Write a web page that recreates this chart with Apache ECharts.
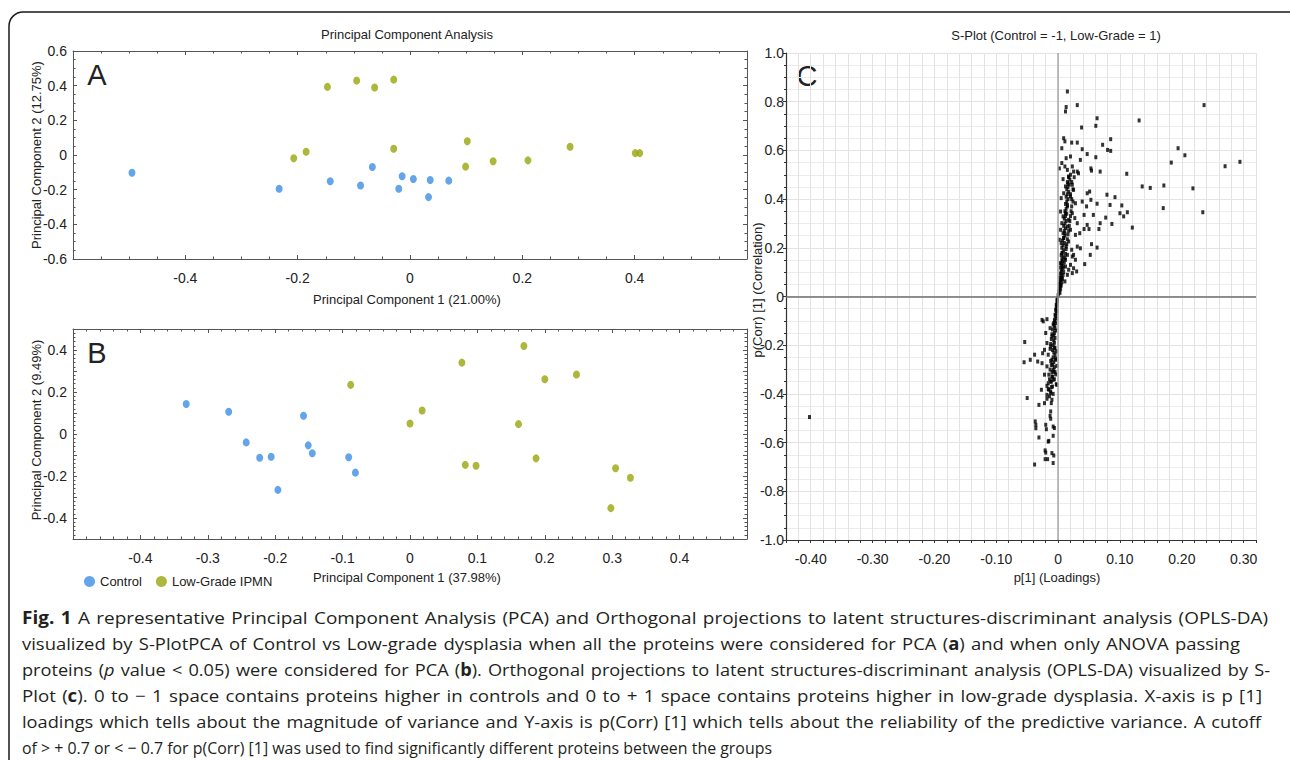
<!DOCTYPE html>
<html>
<head>
<meta charset="utf-8">
<script src="https://cdn.jsdelivr.net/npm/echarts@6/dist/echarts.min.js"></script>
<style>
html,body{margin:0;padding:0;background:#fff;}
#chart{width:1290px;height:760px;}
</style>
</head>
<body>
<div id="chart"></div>
<script>
// ---------------- DATA ----------------
// Panel A: PCA (all proteins)  [PC1, PC2]
const pcaA_control = [[-0.495,-0.102],[-0.233,-0.195],[-0.142,-0.151],[-0.088,-0.176],[-0.067,-0.069],
  [-0.014,-0.123],[-0.020,-0.195],[0.006,-0.138],[0.036,-0.144],[0.033,-0.243],[0.069,-0.148]];
const pcaA_lowgrade = [[-0.207,-0.019],[-0.185,0.019],[-0.147,0.393],[-0.095,0.429],[-0.063,0.389],
  [-0.029,0.435],[-0.029,0.036],[0.102,0.079],[0.099,-0.067],[0.148,-0.036],[0.210,-0.031],
  [0.285,0.048],[0.401,0.011],[0.409,0.011]];
// Panel B: PCA (ANOVA passing proteins)
const pcaB_control = [[-0.332,0.143],[-0.269,0.106],[-0.243,-0.040],[-0.223,-0.113],[-0.206,-0.108],
  [-0.196,-0.266],[-0.158,0.087],[-0.151,-0.054],[-0.145,-0.092],[-0.091,-0.111],[-0.081,-0.184]];
const pcaB_lowgrade = [[-0.088,0.234],[0.000,0.050],[0.018,0.112],[0.077,0.340],[0.082,-0.147],
  [0.098,-0.151],[0.169,0.419],[0.161,0.047],[0.200,0.261],[0.187,-0.116],[0.247,0.283],
  [0.305,-0.163],[0.327,-0.208],[0.298,-0.353]];
// Panel C: S-plot  [p[1] loading, p(corr)[1]]
const splotOuterPos = [[0.015,0.842],[0.031,0.786],[0.013,0.778],[0.012,0.760],[0.236,0.786],[0.131,0.723],
  [0.063,0.732],[0.061,0.701],[0.038,0.694],[0.009,0.650],[0.011,0.637],[0.085,0.646],[0.072,0.623],
  [0.080,0.602],[0.085,0.598],[0.022,0.632],[0.031,0.632],[0.006,0.609],[0.039,0.605],[0.047,0.585],
  [0.194,0.609],[0.205,0.580],[0.183,0.550],[0.270,0.535],[0.294,0.553],[0.111,0.504],[0.061,0.572],
  [0.068,0.513],[0.053,0.526],[0.054,0.517],[0.136,0.452],[0.149,0.446],[0.171,0.456],[0.170,0.363],
  [0.218,0.444],[0.234,0.346],[0.120,0.283],[0.087,0.298],[0.100,0.342],[0.106,0.329],[0.112,0.346],
  [0.103,0.374],[0.092,0.408],[0.079,0.418],[0.084,0.376],[0.077,0.324],[0.068,0.301],[0.066,0.277],
  [0.063,0.201],[0.054,0.215],[0.052,0.171],[0.043,0.133]];
const splotMidPos = [[0.002,0.526],[0.006,0.548],[0.013,0.568],[0.020,0.575],[0.023,0.534],[0.025,0.513],
  [0.031,0.513],[0.033,0.506],[0.036,0.561],[0.015,0.520],[0.011,0.534],[0.017,0.493],[0.008,0.482],
  [0.012,0.452],[0.016,0.465],[0.023,0.459],[0.025,0.438],[0.009,0.424],[0.020,0.411],[0.005,0.404],
  [0.024,0.390],[0.028,0.383],[0.015,0.376],[0.022,0.370],[0.039,0.390],[0.047,0.424],[0.051,0.431],
  [0.053,0.397],[0.046,0.370],[0.042,0.335],[0.057,0.335],[0.063,0.381],[0.004,0.349],[0.008,0.329],
  [0.012,0.342],[0.017,0.315],[0.023,0.342],[0.027,0.322],[0.031,0.301],[0.006,0.301],[0.015,0.287],
  [0.020,0.274],[0.011,0.260],[0.004,0.274],[0.047,0.294],[0.042,0.277],[0.050,0.277],[0.035,0.260],
  [0.028,0.253],[0.002,0.233],[0.005,0.219],[0.009,0.240],[0.013,0.205],[0.017,0.226],[0.022,0.192],
  [0.006,0.178],[0.015,0.171],[0.023,0.164],[0.012,0.151],[0.031,0.205],[0.004,0.137],[0.008,0.116],
  [0.012,0.123],[0.017,0.110],[0.015,0.089],[0.006,0.075],[0.011,0.062],[0.004,0.048],[0.023,0.096],
  [0.020,0.130],[0.030,0.103],[0.025,0.116],[0.028,0.151],[0.025,0.171],[0.036,0.198]];
const splotCorePos = [[0.000,0.005],[0.001,0.012],[0.001,0.020],[0.002,0.028],[0.002,0.036],[0.003,0.043],
  [0.002,0.052],[0.003,0.060],[0.004,0.068],[0.003,0.077],[0.005,0.085],[0.004,0.094],[0.005,0.102],
  [0.006,0.110],[0.004,0.119],[0.006,0.128],[0.005,0.136],[0.007,0.145],[0.006,0.153],[0.008,0.162],
  [0.005,0.170],[0.007,0.180],[0.009,0.190],[0.006,0.200],[0.008,0.210],[0.010,0.220],[0.007,0.230],
  [0.009,0.240],[0.011,0.250],[0.008,0.260],[0.010,0.270],[0.012,0.280],[0.009,0.290],[0.011,0.300],
  [0.013,0.310],[0.010,0.320],[0.012,0.330],[0.014,0.340],[0.011,0.350],[0.013,0.360],[0.015,0.370],
  [0.012,0.380],[0.014,0.390],[0.016,0.400],[0.013,0.410],[0.015,0.420],[0.017,0.430],[0.014,0.440],
  [0.016,0.450],[0.018,0.460],[0.015,0.470],[0.019,0.480],[0.017,0.490],[0.020,0.500],
  [0.003,0.015],[0.004,0.030],[0.005,0.045],[0.006,0.058],[0.007,0.072],[0.008,0.088],[0.009,0.100],
  [0.008,0.125],[0.010,0.140],[0.011,0.158],[0.012,0.175],[0.013,0.195],[0.014,0.215],[0.015,0.235],
  [0.016,0.255],[0.017,0.270],[0.018,0.290],[0.019,0.310],[0.020,0.330],[0.021,0.350],[0.022,0.400],
  [0.020,0.420],[0.024,0.440],[0.022,0.470],[0.026,0.490]];
const splotOuterNeg = [[-0.402,-0.495],[-0.054,-0.187],[-0.055,-0.270],[-0.045,-0.260],[-0.038,-0.239],
  [-0.033,-0.267],[-0.050,-0.417],[-0.031,-0.445],[-0.037,-0.513],[-0.036,-0.527],[-0.036,-0.541],
  [-0.031,-0.579],[-0.038,-0.690],[-0.021,-0.632],[-0.020,-0.641],[-0.021,-0.668],[-0.017,-0.668],
  [-0.010,-0.643],[-0.007,-0.653],[-0.008,-0.684],[-0.015,-0.593],[-0.016,-0.596],[-0.008,-0.572],
  [-0.020,-0.527],[-0.019,-0.545],[-0.008,-0.534],[-0.006,-0.540],[-0.022,-0.438],[-0.011,-0.438],
  [-0.012,-0.472],[-0.013,-0.490],[-0.012,-0.502],[-0.026,-0.096],[-0.018,-0.093],[-0.024,-0.102],
  [-0.027,-0.383],[-0.002,-0.363]];
const splotMidNeg = [[-0.020,-0.150],[-0.018,-0.191],[-0.022,-0.219],[-0.016,-0.239],[-0.012,-0.205],
  [-0.010,-0.164],[-0.013,-0.130],[-0.007,-0.109],[-0.011,-0.281],[-0.018,-0.287],[-0.015,-0.321],
  [-0.022,-0.321],[-0.010,-0.328],[-0.007,-0.308],[-0.012,-0.349],[-0.018,-0.367],[-0.015,-0.383],
  [-0.011,-0.372],[-0.008,-0.342],[-0.004,-0.260],[-0.005,-0.212],[-0.016,-0.356],[-0.025,-0.233],
  [-0.026,-0.274],[-0.010,-0.424],[-0.012,-0.397],[-0.018,-0.404]];
const splotCoreNeg = [[-0.001,-0.010],[-0.001,-0.020],[-0.002,-0.030],[-0.002,-0.040],[-0.003,-0.050],
  [-0.002,-0.060],[-0.003,-0.070],[-0.004,-0.080],[-0.003,-0.090],[-0.005,-0.100],[-0.004,-0.110],
  [-0.006,-0.120],[-0.005,-0.130],[-0.004,-0.140],[-0.006,-0.150],[-0.007,-0.160],[-0.005,-0.170],
  [-0.007,-0.180],[-0.006,-0.190],[-0.008,-0.200],[-0.006,-0.210],[-0.009,-0.220],[-0.007,-0.230],
  [-0.005,-0.240],[-0.008,-0.250],[-0.010,-0.260],[-0.007,-0.270],[-0.009,-0.280],[-0.006,-0.290],
  [-0.008,-0.300],[-0.010,-0.310],[-0.004,-0.320],[-0.009,-0.330],[-0.006,-0.340],[-0.011,-0.350],
  [-0.003,-0.360],[-0.009,-0.370],[-0.012,-0.390],[-0.008,-0.400],[-0.014,-0.410],
  [-0.002,-0.015],[-0.003,-0.035],[-0.004,-0.055],[-0.005,-0.075],[-0.006,-0.095],[-0.008,-0.115],
  [-0.009,-0.135],[-0.010,-0.155],[-0.011,-0.175],[-0.012,-0.195],[-0.013,-0.215],[-0.003,-0.225],
  [-0.004,-0.255],[-0.012,-0.265],[-0.002,-0.285],[-0.013,-0.300],[-0.005,-0.310],[-0.014,-0.340],
  [-0.016,-0.380],[-0.018,-0.420]];

// Caption text lines (segments: [text, style])
const captionLines = [
  [["Fig. 1","b"],[" A representative Principal Component Analysis (PCA) and Orthogonal projections to latent structures-discriminant analysis (OPLS-DA)","n"]],
  [["visualized by S-PlotPCA of Control vs Low-grade dysplasia when all the proteins were considered for PCA (","n"],["a","b"],[") and when only ANOVA passing","n"]],
  [["proteins (","n"],["p","i"],[" value < 0.05) were considered for PCA (","n"],["b","b"],["). Orthogonal projections to latent structures-discriminant analysis (OPLS-DA) visualized by S-","n"]],
  [["Plot (","n"],["c","b"],["). 0 to \u2212 1 space contains proteins higher in controls and 0 to + 1 space contains proteins higher in low-grade dysplasia. X-axis is p [1]","n"]],
  [["loadings which tells about the magnitude of variance and Y-axis is p(Corr) [1] which tells about the reliability of the predictive variance. A cutoff","n"]],
  [["of > + 0.7 or < \u2212 0.7 for p(Corr) [1] was used to find significantly different proteins between the groups","n"]]
];
const captionRightEdges = [1268, 1240, 1270, 1262, 1261, 772];

// ---------------- STYLE ----------------
const BLUE = '#3d8ee3', OLIVE = '#99a50b';
const AX = '#555';
const LF = 'Liberation Sans, Arial, sans-serif';
const CF = 'Open Sans, Noto Sans, sans-serif';
const CAP_SIZE = 17;
const CAP_LEFT = 22;
const WORD_GAP_FACTOR = 1.3;

function isMult(v, step){ const r = v/step; return Math.abs(r - Math.round(r)) < 1e-6; }
function fmt1(v){ if (Math.abs(v) < 1e-9) return '0'; return (+v).toFixed(1); }

function boxAxes(gi, min, max, interval, minorSplit, labelFn, isX){
  const common = {gridIndex: gi, min, max, interval,
    axisLine:{show:true, onZero:false, lineStyle:{color:AX, width:1}},
    axisTick:{show:true, inside:true, length:4, lineStyle:{color:AX}},
    minorTick:{show:true, splitNumber:minorSplit, length:2.5, lineStyle:{color:AX}},
    splitLine:{show:false}};
  const main = Object.assign({}, common, {
    position: isX ? 'bottom' : 'left',
    axisLabel:{show:true, interval:0, hideOverlap:false, color:'#222', fontSize:14, fontFamily:LF,
      margin: isX ? 12 : 6, formatter: labelFn}});
  const sec = Object.assign({}, common, {position: isX ? 'top' : 'right', axisLabel:{show:false}});
  return [main, sec];
}

const [axA_x, axA_x2] = boxAxes(0, -0.6, 0.6, 0.2, 4, v => (Math.abs(v) > 0.5 ? '' : fmt1(v)), true);
const [axA_y, axA_y2] = boxAxes(0, -0.6, 0.6, 0.2, 4, v => fmt1(v), false);
const [axB_x, axB_x2] = boxAxes(1, -0.5, 0.5, 0.1, 5, v => (Math.abs(v) > 0.45 ? '' : fmt1(v)), true);
const [axB_y, axB_y2] = boxAxes(1, -0.5, 0.5, 0.1, 5, v => (Math.abs(v) > 0.45 || !isMult(v,0.2) ? '' : fmt1(v)), false);

const axC_x = {gridIndex:2, min:-0.44, max:0.32, interval:0.02, position:'bottom',
  axisLine:{show:true, onZero:false, lineStyle:{color:'#333', width:1.2}},
  axisTick:{show:true, length:3, lineStyle:{color:'#333'}},
  splitLine:{show:true, lineStyle:{color:'#e3e3e3', width:1}},
  axisLabel:{interval:0, hideOverlap:false, color:'#222', fontSize:14, fontFamily:LF, margin:12,
    formatter: v => (!isMult(v,0.1) ? '' : (Math.abs(v)<1e-9 ? '0' : (+v).toFixed(2)))}};
const axC_y = {gridIndex:2, min:-1, max:1, interval:0.2, position:'left',
  axisLine:{show:true, onZero:false, lineStyle:{color:'#333', width:1.2}},
  axisTick:{show:true, length:3, lineStyle:{color:'#333'}},
  minorTick:{show:true, splitNumber:4, length:2, lineStyle:{color:'#333'}},
  splitLine:{show:true, lineStyle:{color:'#e3e3e3', width:1}},
  minorSplitLine:{show:true, lineStyle:{color:'#ececec', width:1}},
  axisLabel:{interval:0, color:'#222', fontSize:14, fontFamily:LF, margin:2, formatter: v => fmt1(v)}};

function dots(name, data, xi, yi, color){
  return {name, type:'scatter', xAxisIndex:xi, yAxisIndex:yi, data,
    symbol:'circle', symbolSize:[7,8], itemStyle:{color}, silent:true, z:3};
}

const splotAll = [].concat(splotOuterPos, splotMidPos, splotCorePos, splotOuterNeg, splotMidNeg, splotCoreNeg);

function txt(text, x, y, size, opts){
  return Object.assign({type:'text', x, y, silent:true,
    style:{text, fill:'#222', fontSize:size, fontFamily:LF, align:'center', verticalAlign:'middle'}}, opts||{});
}

// ---------- justified caption: each word placed separately ----------
const measureCtx = document.createElement('canvas').getContext('2d');
function segFont(kind){
  if (kind === 'b') return 'bold ' + CAP_SIZE + 'px ' + CF;
  if (kind === 'i') return 'italic ' + CAP_SIZE + 'px ' + CF;
  return CAP_SIZE + 'px ' + CF;
}
function measure(t, k){ measureCtx.font = segFont(k); return measureCtx.measureText(t).width; }
function lineWords(segs){
  const words = [[]];
  segs.forEach(([t,k]) => {
    const parts = t.split(' ');
    parts.forEach((p, j) => {
      if (j > 0) words.push([]);
      if (p.length) words[words.length-1].push([p,k]);
    });
  });
  return words.filter(w => w.length);
}
const richStyles = { n:{fontSize:CAP_SIZE, fontFamily:CF, fill:'#231f20'},
  b:{fontSize:CAP_SIZE, fontFamily:CF, fontWeight:'bold', fill:'#231f20'},
  i:{fontSize:CAP_SIZE, fontFamily:CF, fontStyle:'italic', fill:'#231f20'} };
const spaceNat = measure(' ', 'n');
const captionGraphics = [];
captionLines.forEach((segs, i) => {
  const words = lineWords(segs);
  const natW = words.map(w => w.reduce((s,[t,k]) => s + measure(t,k), 0));
  const sumW = natW.reduce((a,b)=>a+b,0);
  const last = i === captionLines.length - 1;
  const gf = last ? 1 : WORD_GAP_FACTOR;
  const target = captionRightEdges[i] - CAP_LEFT;
  const s = target / (sumW + (words.length - 1) * spaceNat * gf);
  const gap = spaceNat * gf * s;
  let x = CAP_LEFT;
  words.forEach((w, j) => {
    const str = w.map(([t,k]) => '{' + k + '|' + t + '}').join('');
    captionGraphics.push({type:'text', x, y:617 + i*26, silent:true, scaleX:s,
      style:{text:str, align:'left', verticalAlign:'middle', fill:'#231f20', rich:richStyles}});
    x += natW[j] * s + gap;
  });
});

const chart = echarts.init(document.getElementById('chart'), null, {renderer:'svg', width:1290, height:760});
chart.setOption({
  animation:false,
  backgroundColor:'#fff',
  legend:{left:79, top:570, itemWidth:11, itemHeight:11, itemGap:14, icon:'circle',
    data:['Control','Low-Grade IPMN'], textStyle:{fontSize:13, fontFamily:LF, color:'#222'}, selectedMode:false},
  grid:[
    {left:73, top:51, width:674, height:208},
    {left:73, top:329, width:674, height:210},
    {left:786, top:53, width:470, height:487}
  ],
  xAxis:[axA_x, axA_x2, axB_x, axB_x2, axC_x],
  yAxis:[axA_y, axA_y2, axB_y, axB_y2, axC_y],
  series:[
    dots('Control', pcaA_control, 0, 0, BLUE),
    dots('Low-Grade IPMN', pcaA_lowgrade, 0, 0, OLIVE),
    dots('Control', pcaB_control, 2, 2, BLUE),
    dots('Low-Grade IPMN', pcaB_lowgrade, 2, 2, OLIVE),
    {name:'S-plot', type:'scatter', xAxisIndex:4, yAxisIndex:4, data:splotAll, silent:true,
      symbol:'rect', symbolSize:[3,4], itemStyle:{color:'#000'}, z:4,
      markLine:{silent:true, symbol:'none', label:{show:false}, animation:false,
        data:[{xAxis:0, lineStyle:{color:'#a8a8a8', width:1.5, type:'solid'}},
              {yAxis:0, lineStyle:{color:'#6e6e6e', width:1.5, type:'solid'}}]}}
  ],
  graphic:[
    {type:'rect', silent:true, shape:{x:9, y:12, width:1320, height:820, r:14},
      style:{fill:'none', stroke:'#1a1a1a', lineWidth:1.5}},
    txt('Principal Component Analysis', 407, 34, 13),
    txt('Principal Component 1 (21.00%)', 407, 299, 13),
    txt('Principal Component 2 (12.75%)', 36, 155, 13, {rotation:Math.PI/2}),
    txt('Principal Component 1 (37.98%)', 407, 577, 13),
    txt('Principal Component 2 (9.49%)', 36, 430, 13, {rotation:Math.PI/2}),
    txt('S-Plot (Control = -1, Low-Grade = 1)', 1056, 35, 13),
    txt('p[1] (Loadings)', 1057, 577, 13),
    txt('p(Corr) [1] (Correlation)', 757, 290, 13, {rotation:Math.PI/2}),
    txt('A', 97, 75, 29),
    txt('B', 97, 353, 29),
    txt('C', 807, 76, 29)
  ].concat(captionGraphics)
});
</script>
</body>
</html>
